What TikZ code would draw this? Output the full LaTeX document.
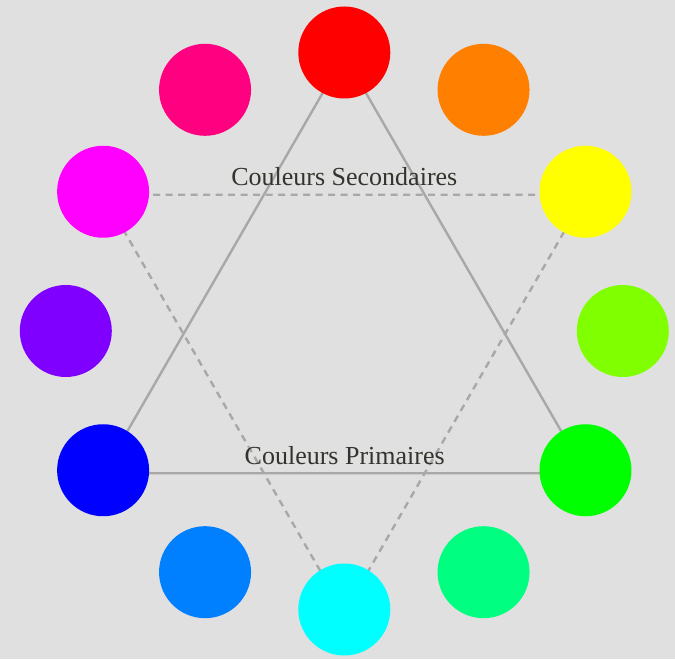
\documentclass[tikz,border=0pt]{standalone}
\usepackage{fontspec}
\setmainfont{Liberation Serif}
\usetikzlibrary{backgrounds,calc}
\definecolor{bggray}{HTML}{E0E0E0}
\definecolor{linegray}{HTML}{A8A8A8}
\definecolor{txtgray}{RGB}{52,52,46}
\tikzset{
  dot/.style={circle, inner sep=0pt, minimum size=92pt, draw=none},
  primline/.style={draw=linegray, line width=2.4pt},
  secline/.style={draw=linegray, line width=2.4pt, dash pattern=on 7pt off 5.5pt},
  lbl/.style={text=txtgray, font=\fontsize{26}{30}\selectfont, inner sep=0pt, anchor=base}
}
\begin{document}
\begin{tikzpicture}[x=1pt,y=1pt]
\useasboundingbox (0,0) rectangle (675,659);
\coordinate (C) at (344.3,328);
\foreach \name/\col/\ang in {red/FF0000/90, orange/FF8000/60, yellow/FFFF00/30,
  chart/80FF00/0, green/00FF00/-30, spring/00FF80/-60, cyan/00FFFF/-90,
  azure/0080FF/-120, blue/0000FF/-150, violet/8000FF/180, magenta/FF00FF/150,
  rose/FF0080/120}{
  \definecolor{c\name}{HTML}{\col}
  \node[dot, fill=c\name] (\name) at ($(C)+(\ang:278.5)$) {};
}
\begin{pgfonlayer}{background}
  \fill[bggray] (0,0) rectangle (675,659);
  \draw[primline] ([yshift=-3pt]red.center) -- ([yshift=-3pt]green.center)
    -- ([yshift=-3pt]blue.center) -- cycle;
  \draw[secline] ([yshift=-3pt]magenta.center) -- ([yshift=-3pt]yellow.center)
    -- ([yshift=-3pt]cyan.center) -- cycle;
\end{pgfonlayer}
\node[lbl] (sec) at (344.3,473) {Couleurs Secondaires};
\node[lbl] (prim) at (344.7,194) {Couleurs Primaires};
\end{tikzpicture}
\end{document}
